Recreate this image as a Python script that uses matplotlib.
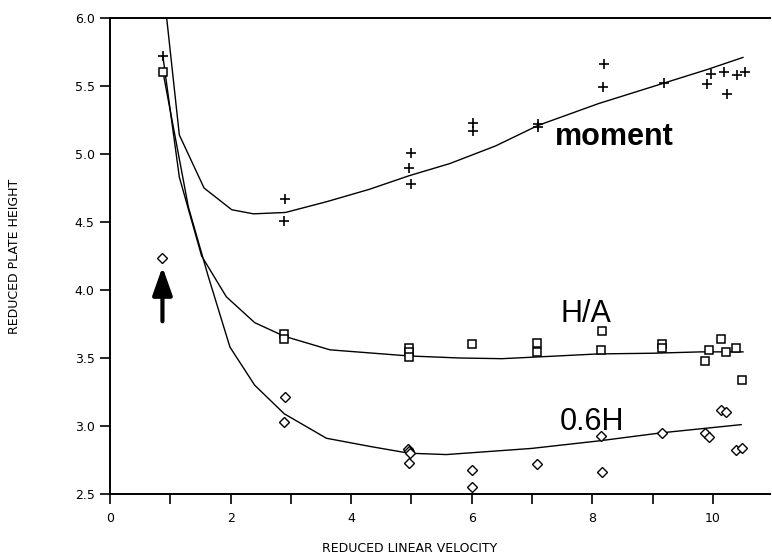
"""Reduced plate height versus reduced linear velocity."""

from matplotlib import pyplot
from matplotlib.ticker import MultipleLocator, FormatStrFormatter

# Measured points: moment analysis (+), H/A (squares), 0.6H (diamonds).
moment_v = [0.88, 2.91, 2.89, 4.99, 4.96, 4.99, 6.03, 6.03, 7.10, 7.10,
            8.20, 8.18, 9.19, 9.97, 9.90, 10.18, 10.23, 10.40, 10.53]
moment_h = [5.72, 4.67, 4.51, 5.01, 4.90, 4.78, 5.23, 5.17, 5.22, 5.20,
            5.66, 5.495, 5.52, 5.59, 5.515, 5.60, 5.44, 5.58, 5.60]

ha_v = [0.88, 2.89, 2.89, 4.96, 4.96, 4.96, 6.01, 7.09, 7.09, 8.17,
        8.14, 9.15, 9.15, 9.87, 9.94, 10.14, 10.22, 10.38, 10.49]
ha_h = [5.605, 3.68, 3.64, 3.57, 3.545, 3.51, 3.60, 3.61, 3.545, 3.70,
        3.56, 3.60, 3.57, 3.48, 3.56, 3.64, 3.545, 3.57, 3.34]

sixh_v = [0.87, 2.91, 2.89, 4.95, 4.96, 4.97, 4.96, 6.01, 6.01, 7.09,
          8.14, 8.16, 9.15, 9.87, 9.93, 10.14, 10.22, 10.38, 10.49]
sixh_h = [4.235, 3.215, 3.03, 2.83, 2.815, 2.80, 2.73, 2.68, 2.555, 2.72,
          2.93, 2.665, 2.95, 2.95, 2.92, 3.12, 3.10, 2.82, 2.835]

# Fitted curves.
moment_fit_v = [0.94, 1.15, 1.56, 2.02, 2.38, 2.91, 3.6, 4.3, 4.96, 5.64,
                6.4, 7.10, 8.1, 9.18, 9.9, 10.5]
moment_fit_h = [6.0, 5.14, 4.75, 4.59, 4.56, 4.57, 4.65, 4.74, 4.84, 4.93,
                5.06, 5.21, 5.37, 5.52, 5.62, 5.71]

ha_fit_v = [0.88, 1.15, 1.52, 1.93, 2.40, 2.89, 3.65, 4.96, 5.80, 6.5,
            7.2, 8.1, 9.0, 9.8, 10.5]
ha_fit_h = [5.71, 4.83, 4.25, 3.95, 3.76, 3.66, 3.56, 3.515, 3.50, 3.495,
            3.51, 3.53, 3.535, 3.545, 3.545]

sixh_fit_v = [0.88, 1.30, 1.63, 1.99, 2.40, 2.89, 3.59, 4.31, 4.96, 5.58,
              6.99, 8.1, 9.15, 10.47]
sixh_fit_h = [5.60, 4.61, 4.10, 3.58, 3.30, 3.09, 2.91, 2.85, 2.80, 2.79,
              2.835, 2.89, 2.95, 3.01]

pyplot.rc('font', family='DejaVu Sans', size=9)

fig = pyplot.figure(figsize=(7.72, 5.57), dpi=100)
ax = fig.add_axes([0.1425, 0.1131, 0.855, 0.8546])

for v, h in [(moment_fit_v, moment_fit_h), (ha_fit_v, ha_fit_h),
             (sixh_fit_v, sixh_fit_h)]:
    ax.plot(v, h, color='black', lw=1.0)

ax.plot(moment_v, moment_h, ls='none', marker='+', ms=7, mew=1.2,
        color='black')
ax.plot(ha_v, ha_h, ls='none', marker='s', ms=6, mfc='white', mec='black',
        mew=1.1)
ax.plot(sixh_v, sixh_h, ls='none', marker='D', ms=5.5, mfc='white',
        mec='black', mew=1.0)

# Arrow: the 0.6H point at the lowest velocity lies off scale.
ax.annotate('', xy=(0.87, 4.17), xytext=(0.87, 3.77),
            arrowprops=dict(arrowstyle='-|>,head_length=0.85,head_width=0.3',
                            lw=3, color='black', mutation_scale=20,
                            shrinkA=0, shrinkB=0))

label_font = dict(family='Liberation Sans', fontsize=22, ha='center',
                  va='center')
ax.text(8.36, 5.125, 'moment', fontweight='bold', **label_font)
ax.text(7.9, 3.82, 'H/A', **label_font)
ax.text(7.99, 3.03, '0.6H', **label_font)

ax.set_xlim(0.0, 10.95)
ax.set_ylim(2.5, 6.0)
ax.xaxis.set_major_locator(MultipleLocator(2))
ax.xaxis.set_minor_locator(MultipleLocator(1))
ax.yaxis.set_major_locator(MultipleLocator(0.5))
ax.yaxis.set_major_formatter(FormatStrFormatter('%.1f'))
ax.tick_params(which='both', direction='out', length=7, width=1.2)
ax.tick_params(axis='x', pad=6)
ax.tick_params(axis='y', pad=4)
ax.spines['right'].set_visible(False)
for side in ('left', 'bottom', 'top'):
    ax.spines[side].set_linewidth(1.4)

ax.set_xlabel('REDUCED LINEAR VELOCITY', fontsize=9)
ax.set_ylabel('REDUCED PLATE HEIGHT', fontsize=9)
ax.xaxis.set_label_coords(0.4545, -0.1)
ax.yaxis.set_label_coords(-0.135, 0.5)

fig.savefig('out.png', dpi=100)
